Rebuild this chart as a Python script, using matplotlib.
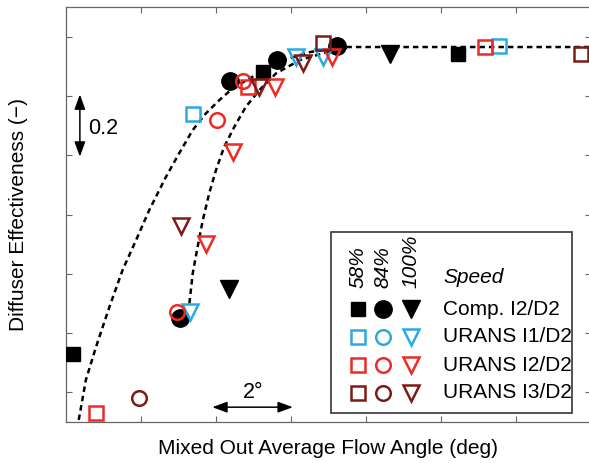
import matplotlib
matplotlib.use("Agg")
import matplotlib.pyplot as plt
from matplotlib.patches import Rectangle

plt.rcParams['font.family'] = ['Liberation Sans', 'DejaVu Sans']

# colours of the data sets
c_comp = 'black'
c_i1 = '#2BAAE2'
c_i2 = '#EE2A24'
c_i3 = '#7E1A17'

# Comp. I2/D2 (filled)
comp_sq_x = [0.19, 5.25, 10.45]
comp_sq_y = [0.23, 1.18, 1.24]
comp_ci_x = [3.04, 4.37, 5.63, 7.23]
comp_ci_y = [0.35, 1.15, 1.22, 1.27]
comp_tr_x = [4.35, 8.64]
comp_tr_y = [0.45, 1.24]

# URANS I1/D2
i1_sq_x = [3.39, 11.55]
i1_sq_y = [1.04, 1.27]
i1_ci_x = []
i1_ci_y = []
i1_tr_x = [3.31, 6.13, 6.85]
i1_tr_y = [0.37, 1.23, 1.23]

# URANS I2/D2
i2_sq_x = [0.80, 4.85, 11.17]
i2_sq_y = [0.03, 1.13, 1.265]
i2_ci_x = [2.96, 4.03, 4.72]
i2_ci_y = [0.37, 1.02, 1.15]
i2_tr_x = [3.73, 4.45, 5.57, 7.09]
i2_tr_y = [0.60, 0.91, 1.13, 1.23]

# URANS I3/D2
i3_sq_x = [6.85, 13.73]
i3_sq_y = [1.28, 1.24]
i3_ci_x = [1.95]
i3_ci_y = [0.08]
i3_tr_x = [3.07, 5.15, 6.32]
i3_tr_y = [0.66, 1.13, 1.21]

# dashed trend curves
fit1_x = [0.34, 0.53, 0.80, 1.16, 1.51, 1.87, 2.22, 2.67, 3.02, 3.38, 3.73, 4.09,
          4.45, 4.98, 5.63, 6.51, 7.39, 14.0]
fit1_y = [0.007, 0.142, 0.253, 0.389, 0.513, 0.614, 0.715, 0.828, 0.907, 0.985, 1.041, 1.086,
          1.126, 1.165, 1.215, 1.248, 1.265, 1.265]
fit2_x = [3.29, 3.38, 3.51, 3.65, 3.82, 4.00, 4.22, 4.49, 4.80, 5.16, 5.60, 6.24, 6.96, 7.49]
fit2_y = [0.400, 0.502, 0.591, 0.682, 0.772, 0.850, 0.929, 0.996, 1.064, 1.120, 1.176, 1.221,
          1.248, 1.262]

speeds = ['58%', '84%', '100%']
series = ['Comp. I2/D2', 'URANS I1/D2', 'URANS I2/D2', 'URANS I3/D2']
colors = [c_comp, c_i1, c_i2, c_i3]

fs = 15

fig = plt.figure(figsize=(5.89, 4.63), dpi=100)
ax = fig.add_axes([66 / 589, 41 / 463, 525 / 589, 415 / 463])

ax.plot(fit1_x, fit1_y, color='black', lw=1.8, dashes=(2.2, 1.6), zorder=1)
ax.plot(fit2_x, fit2_y, color='black', lw=1.8, dashes=(2.2, 1.6), zorder=1)

ms_sq, ms_ci, ms_tr = 9.5, 10.5, 12
ew = 1.8


def filled(x, y, m, ms):
    ax.plot(x, y, ls='none', marker=m, ms=ms, color='black', zorder=3)


def hollow(x, y, m, ms, c):
    ax.plot(x, y, ls='none', marker=m, ms=ms, mfc='none', mec=c, mew=ew, zorder=4)


filled(comp_sq_x, comp_sq_y, 's', ms_sq)
filled(comp_ci_x, comp_ci_y, 'o', ms_ci + 2)
filled(comp_tr_x, comp_tr_y, 'v', ms_tr + 1)
for (sx, sy, cx, cy, tx, ty, c) in [
        (i1_sq_x, i1_sq_y, i1_ci_x, i1_ci_y, i1_tr_x, i1_tr_y, c_i1),
        (i2_sq_x, i2_sq_y, i2_ci_x, i2_ci_y, i2_tr_x, i2_tr_y, c_i2),
        (i3_sq_x, i3_sq_y, i3_ci_x, i3_ci_y, i3_tr_x, i3_tr_y, c_i3)]:
    hollow(sx, sy, 's', ms_sq, c)
    hollow(cx, cy, 'o', ms_ci, c)
    hollow(tx, ty, 'v', ms_tr, c)

ax.set_xlim(0, 14)
ax.set_ylim(0, 1.4)
ax.set_xticks([2, 4, 6, 8, 10, 12])
ax.set_yticks([0.1, 0.3, 0.5, 0.7, 0.9, 1.1, 1.3])
ax.tick_params(direction='in', length=4, width=0.8, color='#666666',
               labelbottom=False, labelleft=False, top=True, right=True)
for s in ax.spines.values():
    s.set_color('#666666')
    s.set_linewidth(0.9)

ax.set_xlabel('Mixed Out Average Flow Angle (deg)', fontsize=fs, labelpad=12)
ax.set_ylabel('Diffuser Effectiveness (\u2212)', fontsize=fs, labelpad=27)

# scale arrows
arrow = dict(arrowstyle='<|-|>,head_length=0.9,head_width=0.33',
             color='black', lw=1.1, shrinkA=0, shrinkB=0)
ax.annotate('', xy=(0.37, 1.105), xytext=(0.37, 0.895), arrowprops=arrow)
ax.text(0.58, 0.99, '0.2', fontsize=fs + 0.5, va='center', ha='left')
ax.annotate('', xy=(3.9, 0.05), xytext=(6.05, 0.05), arrowprops=arrow)
ax.text(5.0, 0.10, '2\u00b0', fontsize=fs + 0.5, va='center', ha='center')

# hand-made legend
T = ax.transAxes
ax.add_patch(Rectangle((0.505, 0.022), 0.459, 0.436, transform=T, fill=True,
                       fc='white', ec='#444444', lw=1.3, zorder=5))
col_x = [0.556, 0.604, 0.657]
row_y = [0.272, 0.205, 0.137, 0.070]
for sx, lab in zip(col_x, speeds):
    ax.text(sx, 0.322, lab, transform=T, rotation=90, ha='center', va='bottom',
            fontsize=fs, style='italic', zorder=6)
ax.text(0.718, 0.349, 'Speed', transform=T, ha='left', va='center',
        fontsize=fs, style='italic', zorder=6)
marks = [('s', ms_sq), ('o', ms_ci), ('v', ms_tr)]
for ry, lab, c in zip(row_y, series, colors):
    for sx, (m, ms) in zip(col_x, marks):
        if c == c_comp:
            ax.plot([sx], [ry], transform=T, marker=m, ms=ms + (2 if m == 'o' else 1 if m == 'v' else 0),
                    color='black', ls='none', zorder=6, clip_on=False)
        else:
            ax.plot([sx], [ry], transform=T, marker=m, ms=ms, mfc='none', mec=c,
                    mew=ew, ls='none', zorder=6, clip_on=False)
    ax.text(0.718, ry, lab, transform=T, ha='left', va='center', fontsize=fs, zorder=6)

fig.savefig('out.png', dpi=100)
